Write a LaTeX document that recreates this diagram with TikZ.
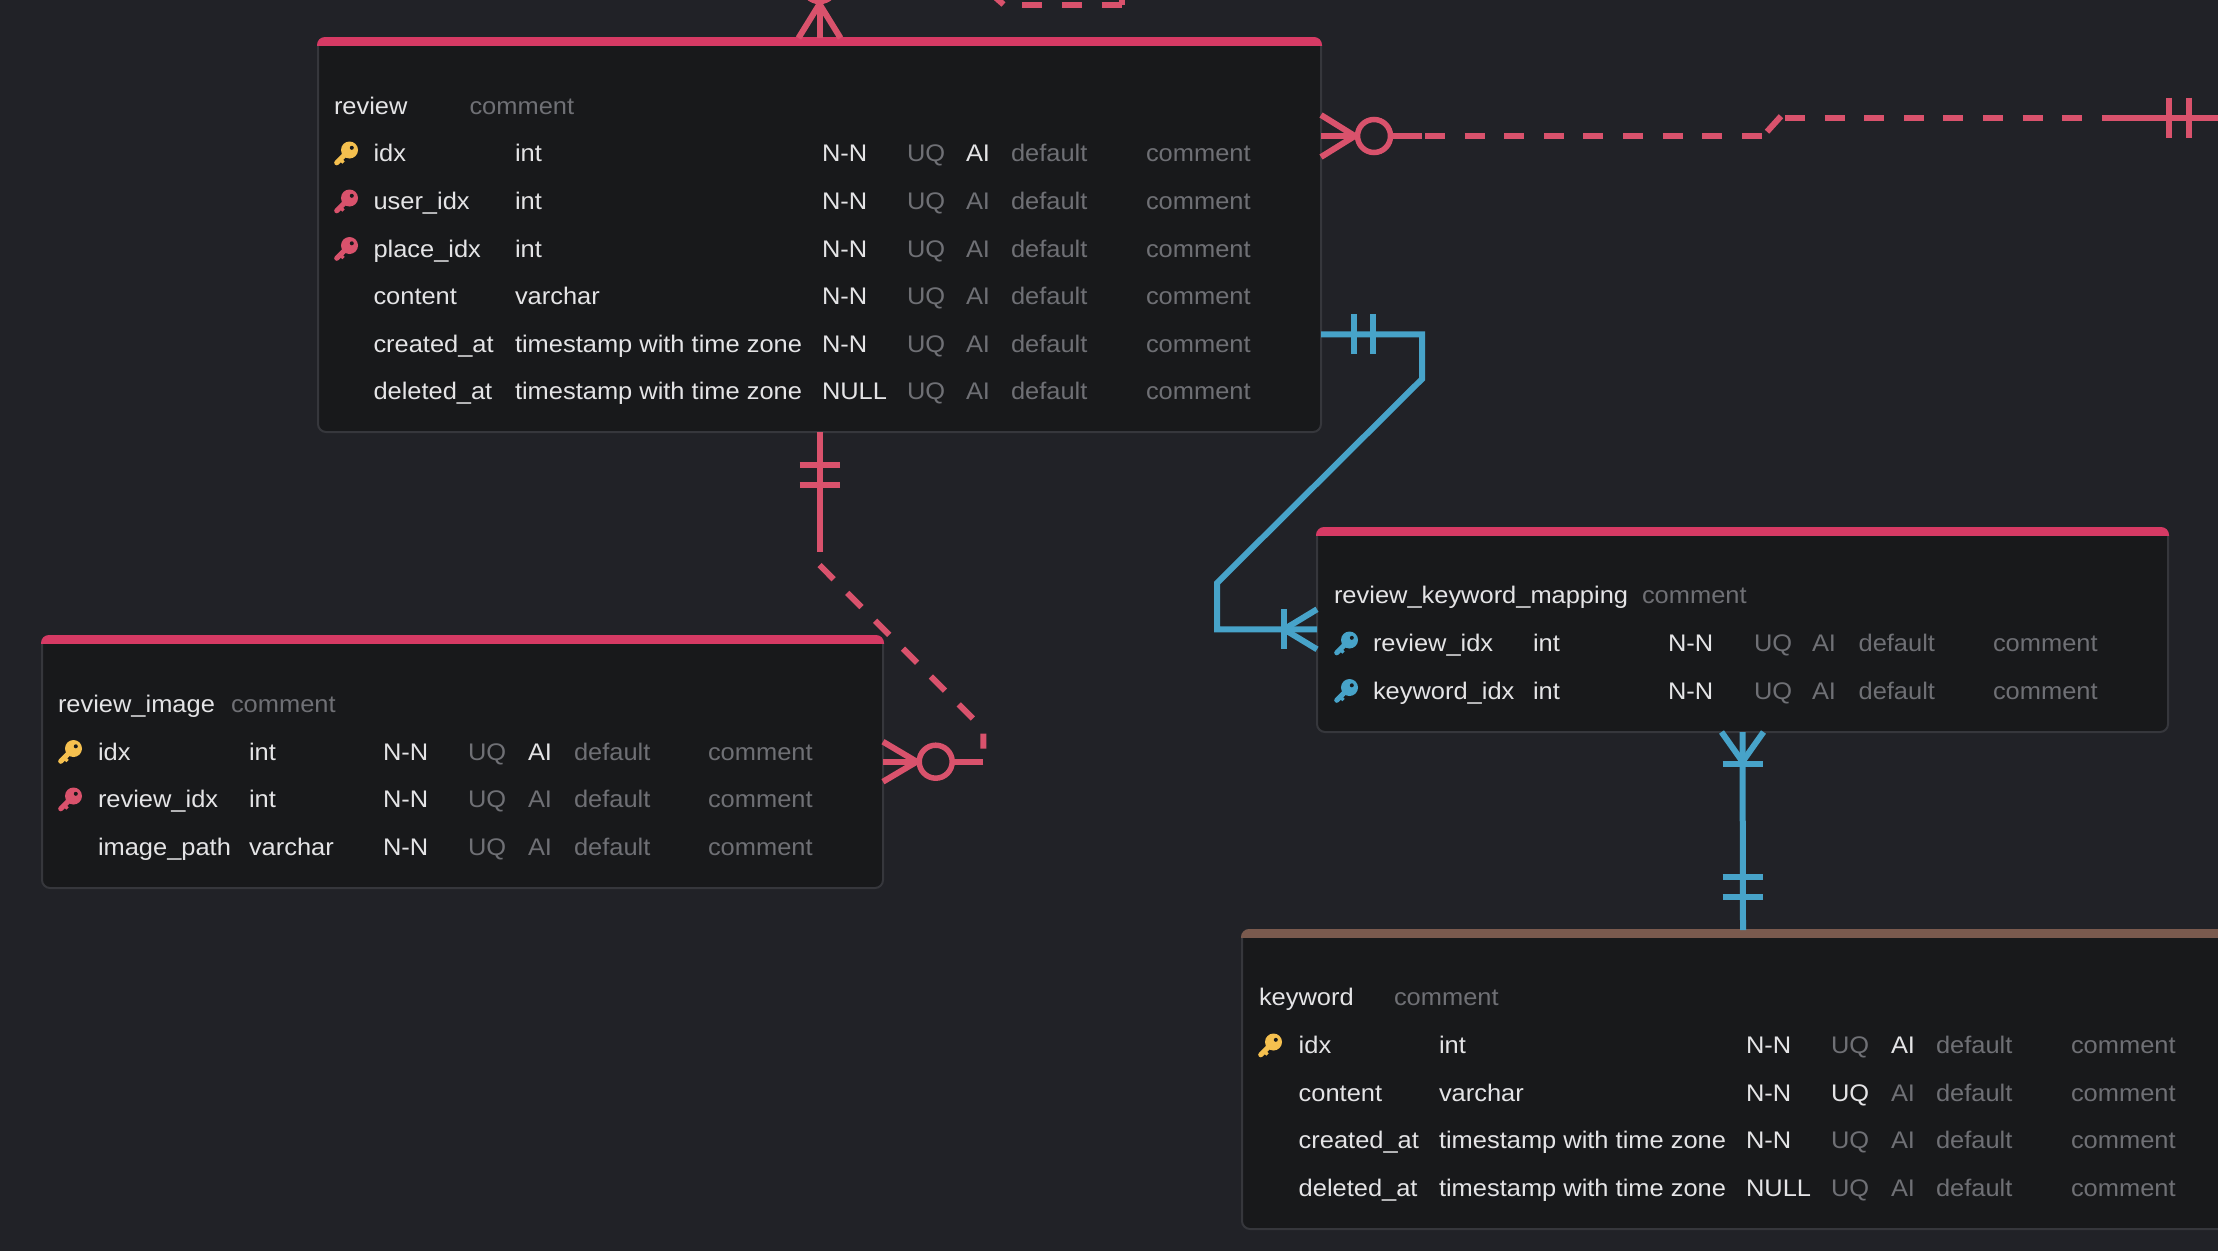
\documentclass[tikz,border=0pt]{standalone}
\usepackage{fontspec}
\setmainfont[FakeStretch=1.06]{Liberation Sans}
\usetikzlibrary{calc}
\definecolor{bgc}{HTML}{212227}
\definecolor{tbl}{HTML}{18191B}
\definecolor{edge}{HTML}{36373C}
\definecolor{fgc}{HTML}{E4E4E6}
\definecolor{dimc}{HTML}{6F7075}
\definecolor{barred}{HTML}{D63A64}
\definecolor{barbrown}{HTML}{7A5A4E}
\definecolor{linkred}{HTML}{D9526C}
\definecolor{linkblue}{HTML}{47A3C9}
\definecolor{gold}{HTML}{F5C04F}
\tikzset{
  tx/.style={anchor=base west,inner sep=0pt,outer sep=0pt,font=\fontsize{24}{28}\selectfont},
  fg/.style={tx,text=fgc},
  dim/.style={tx,text=dimc},
  tablebox/.style={draw=edge,fill=tbl,line width=2pt,rounded corners=8pt,inner sep=0pt,outer sep=0pt},
  redl/.style={draw=linkred,line width=6pt,line cap=butt,line join=miter},
  bluel/.style={draw=linkblue,line width=6pt,line cap=butt,line join=miter},
  reddash/.style={redl,dash pattern=on 20pt off 19.4pt},
  ring/.style={circle,draw=linkred,line width=5.5pt,minimum size=33pt,inner sep=0pt,outer sep=0pt},
}
\newcommand{\setcols}[7]{\def\cN{#1}\def\cT{#2}\def\cL{#3}\def\cU{#4}\def\cA{#5}\def\cD{#6}\def\cC{#7}}
% id, row y, name, type, null text, UQ style, AI style
\newcommand{\trow}[7]{%
  \node[fg] (#1n) at (\cN,#2+8.6) {#3};
  \node[fg] (#1t) at (\cT,#2+8.6) {#4};
  \node[fg] (#1l) at (\cL,#2+8.6) {#5};
  \node[#6] (#1u) at (\cU,#2+8.6) {UQ};
  \node[#7] (#1a) at (\cA,#2+8.6) {AI};
  \node[dim] (#1d) at (\cD,#2+8.6) {default};
  \node[dim] (#1c) at (\cC,#2+8.6) {comment};
}
% id, x0, y0, x1, y1, bar colour
\newcommand{\tablebox}[6]{%
  \node[tablebox,minimum width={#4pt-#2pt},minimum height={#5pt-#3pt}] (#1) at ({(#2+#4)/2},{(#3+#5)/2}) {};
  \begin{scope}
    \clip ($(#1.north west)+(-1,-1)$) rectangle ($(#1.north east)+(1,7)$);
    \fill[#6,rounded corners=8pt] ($(#1.north west)+(-1,-1)$) rectangle ($(#1.north east)+(1,24)$);
  \end{scope}
}
% left x, row y, colour
\newcommand{\keyicon}[3]{%
  \begin{scope}[shift={(#1,#2-11.5)}]
    \fill[#3] (15.5,8.5) circle[radius=8.5];
    \draw[#3,line width=5.2pt,line cap=round] (13,11) -- (2.8,21.2);
    \draw[#3,line width=3.4pt] (6,17.5) -- (9.5,21);
    \fill[tbl] (17.8,6.3) circle[radius=2];
  \end{scope}
}
\newcommand{\tickv}[3]{\draw[#1,line width=6pt] (#2,#3-20) -- (#2,#3+20);}
\newcommand{\tickh}[3]{\draw[#1,line width=6pt] (#2-20,#3) -- (#2+20,#3);}
\begin{document}
\begin{tikzpicture}[x=1pt,y=-1pt]
\useasboundingbox (0,0) rectangle (2218,1250);
\clip (-2,-2) rectangle (2220,1252);
\fill[bgc] (-2,-2) rectangle (2220,1252);

% tables first so that connectors can use their names
\tablebox{review}{318}{38}{1321}{432}{barred}
\tablebox{rimage}{42}{636}{883}{888}{barred}
\tablebox{mapping}{1317}{528}{2168}{732}{barred}
\tablebox{keyword}{1242}{930}{2244}{1229}{barbrown}

% ---- review
\node[fg] (rvtitle) at (334,114.4) {review};
\node[dim] (rvcom) at (469.5,114.4) {comment};
\setcols{373.5}{515}{822}{907}{966}{1011}{1146}
\trow{rva}{153}{idx}{int}{N-N}{dim}{fg}
\trow{rvb}{201}{user\_idx}{int}{N-N}{dim}{dim}
\trow{rvc}{248.5}{place\_idx}{int}{N-N}{dim}{dim}
\trow{rvd}{296}{content}{varchar}{N-N}{dim}{dim}
\trow{rve}{344}{created\_at}{timestamp with time zone}{N-N}{dim}{dim}
\trow{rvf}{391}{deleted\_at}{timestamp with time zone}{NULL}{dim}{dim}
\keyicon{334}{153}{gold}
\keyicon{334}{201}{linkred}
\keyicon{334}{248.5}{linkred}

% ---- review_image
\node[fg] (imtitle) at (58,712.4) {review\_image};
\node[dim] (imcom) at (231,712.4) {comment};
\setcols{98}{249}{383}{468}{528}{574}{708}
\trow{ima}{751.5}{idx}{int}{N-N}{dim}{fg}
\trow{imb}{799}{review\_idx}{int}{N-N}{dim}{dim}
\trow{imc}{847}{image\_path}{varchar}{N-N}{dim}{dim}
\keyicon{58}{751.5}{gold}
\keyicon{58}{799}{linkred}

% ---- review_keyword_mapping
\node[fg] (mptitle) at (1334,603.8) {review\_keyword\_mapping};
\node[dim] (mpcom) at (1642,603.8) {comment};
\setcols{1373}{1533}{1668}{1754}{1812}{1858.6}{1993}
\trow{mpa}{643}{review\_idx}{int}{N-N}{dim}{dim}
\trow{mpb}{690.5}{keyword\_idx}{int}{N-N}{dim}{dim}
\keyicon{1334}{643}{linkblue}
\keyicon{1334}{690.5}{linkblue}

% ---- keyword
\node[fg] (kwtitle) at (1259,1005.4) {keyword};
\node[dim] (kwcom) at (1394,1005.4) {comment};
\setcols{1298.7}{1439}{1746}{1831}{1891}{1936}{2071}
\trow{kwa}{1045}{idx}{int}{N-N}{dim}{fg}
\trow{kwb}{1092.5}{content}{varchar}{N-N}{fg}{dim}
\trow{kwc}{1140}{created\_at}{timestamp with time zone}{N-N}{dim}{dim}
\trow{kwd}{1187.5}{deleted\_at}{timestamp with time zone}{NULL}{dim}{dim}
\keyicon{1258}{1045}{gold}

% ---- connector review -> review_image
\coordinate (a1) at (819.5,552);
\coordinate (a2) at (819.5,565);
\coordinate (a3) at (983.3,729);
\coordinate (a4) at (983.3,748.5);
\coordinate (a5) at (983.3,761.7);
\coordinate (a6) at (916.7,761.7);
\node[ring] (aring) at (935.7,761.7) {};
\draw[redl] (review.south) -- (a1);
\draw[reddash] (a2) -- (a3) -- (a4);
\draw[redl] (a5) -- (aring.east);
\draw[redl] (a6) -- (rimage.east |- a6);
\draw[redl] (a6) -- ($(rimage.east |- a6)+(0,-20)$);
\draw[redl] (a6) -- ($(rimage.east |- a6)+(0,20)$);
\tickh{linkred}{819.5}{465}
\tickh{linkred}{819.5}{484.7}

% ---- connector review -> off-picture (right)
\coordinate (b0) at (1354.8,136);
\node[ring] (bring) at (1374,136) {};
\coordinate (b1) at (1421.7,136);
\coordinate (b2) at (1425,136);
\coordinate (b3) at (1762,136);
\coordinate (b4) at (1767,131.7);
\coordinate (b5) at (1781,116.2);
\coordinate (b6) at (1785,117.7);
\coordinate (b7) at (2102,117.7);
\coordinate (b8) at (2218,117.7);
\draw[redl] (b0) -- (review.east |- b0);
\draw[redl] (b0) -- ($(review.east |- b0)+(0,-21)$);
\draw[redl] (b0) -- ($(review.east |- b0)+(0,21)$);
\draw[redl] (bring.east) -- (b1);
\draw[reddash,dash pattern=on 20pt off 19.6pt] (b2) -- (b3);
\draw[redl] (b4) -- (b5);
\draw[reddash,dash pattern=on 20pt off 19.6pt] (b6) -- (b7);
\draw[redl] (b7) -- (b8);
\tickv{linkred}{2169.4}{117.7}
\tickv{linkred}{2189}{117.7}

% ---- connector review -> mapping
\coordinate (c0) at (1321,334.3);
\coordinate (c1) at (1422,334.3);
\coordinate (c2) at (1422,379);
\coordinate (c3) at (1217,583);
\coordinate (c4) at (1217,629.3);
\coordinate (c5) at (1284,629.3);
\draw[bluel] (c0) -- (c1) -- (c2) -- (c3) -- (c4) -- (mapping.west |- c4);
\draw[bluel] (c5) -- ($(mapping.west |- c4)+(0,-20)$);
\draw[bluel] (c5) -- ($(mapping.west |- c4)+(0,20)$);
\tickv{linkblue}{1353.6}{334.3}
\tickv{linkblue}{1373.3}{334.3}
\tickv{linkblue}{1284}{629.3}

% ---- connector mapping -> keyword
\coordinate (d0) at (1742.5,761.7);
\draw[bluel] (mapping.south) -- (keyword.north);
\draw[bluel] (d0) -- ($(mapping.south)+(-21,0)$);
\draw[bluel] (d0) -- ($(mapping.south)+(21,0)$);
\tickh{linkblue}{1742.5}{764}
\tickh{linkblue}{1742.5}{877}
\tickh{linkblue}{1742.5}{897}

% ---- connector into review from above
\node[ring] (ering) at (819.5,-15) {};
\coordinate (e0) at (819.5,4);
\draw[redl] (e0) -- (review.north);
\draw[redl] (e0) -- ($(review.north)+(-21,0)$);
\draw[redl] (e0) -- ($(review.north)+(21,0)$);

% ---- dashed remnant at the top edge
\coordinate (f0) at (995,-3);
\coordinate (f1) at (1003.5,4.5);
\coordinate (f2) at (1022,4.5);
\coordinate (f3) at (1121.7,4.5);
\coordinate (f4) at (1121.7,-3);
\draw[redl] (f0) -- (f1);
\draw[reddash,dash pattern=on 20pt off 19.85pt] (f2) -- (f3);
\draw[redl] (f3) -- (f4);
\end{tikzpicture}
\end{document}
